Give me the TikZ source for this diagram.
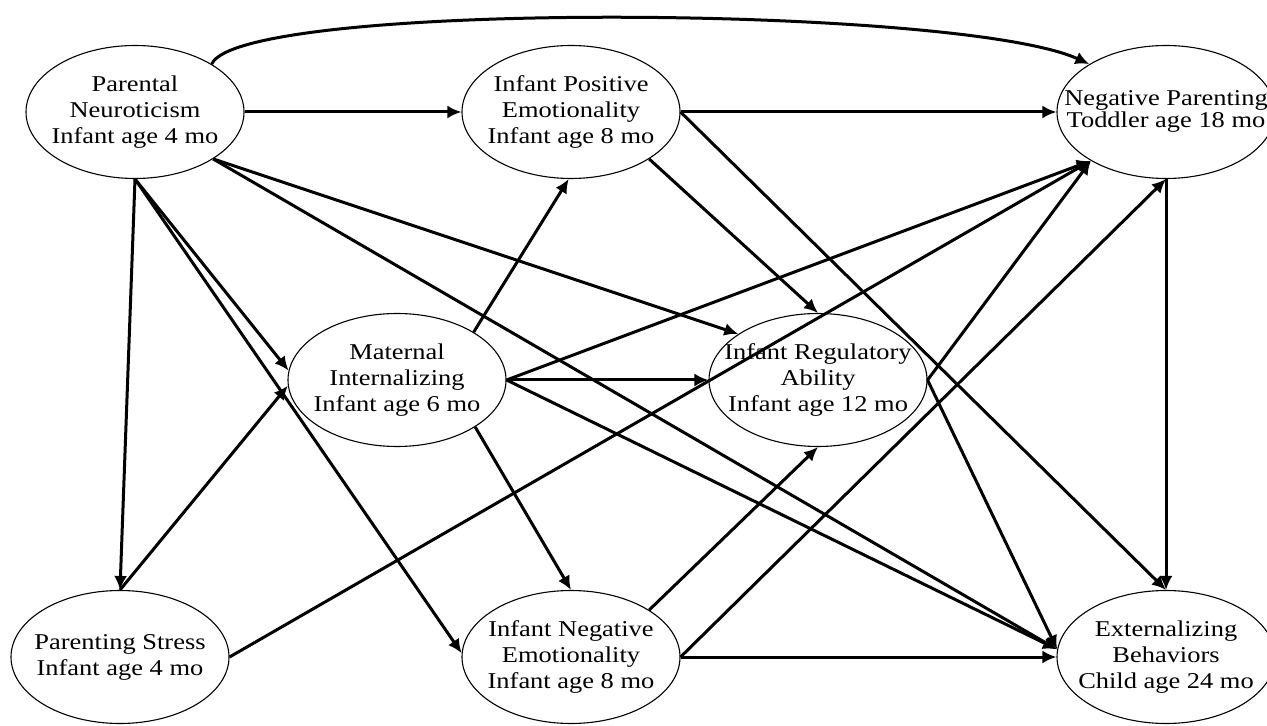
\documentclass[tikz,border=0pt]{standalone}
\usepackage{fontspec}
\setmainfont{Liberation Serif}[FakeStretch=1.17]
\usetikzlibrary{shapes.geometric,arrows.meta}

\newcommand{\ellabel}[1]{\makebox[0pt]{\begin{tabular}{@{}c@{}}#1\end{tabular}}}

\tikzset{
  latent/.style={ellipse, draw, line width=0.55pt, minimum width=109pt, minimum height=66.5pt, inner sep=0pt},
  eff/.style={-{Latex[length=7pt, width=6.5pt]}, line width=1.5pt}
}

\begin{document}
\begin{tikzpicture}[x=0.5pt, y=-0.5pt, font=\fontsize{11.3}{13.1}\selectfont]
  \useasboundingbox (0,0) rectangle (1267,726);

  % Constructs
  \node[latent] (PN)  at (135,112)  {\ellabel{Parental\\Neuroticism\\Infant age 4 mo}};
  \node[latent] (IPE) at (571,112)  {\ellabel{Infant Positive\\Emotionality\\Infant age 8 mo}};
  \node[latent, font=\fontsize{11.3}{9.8}\selectfont] (NP) at (1166,112) {\ellabel{Negative Parenting\\Toddler age 18 mo}};
  \node[latent] (MI)  at (397,380)  {\ellabel{Maternal\\Internalizing\\Infant age 6 mo}};
  \node[latent] (IRA) at (818,380)  {\ellabel{Infant Regulatory\\Ability\\Infant age 12 mo}};
  \node[latent] (PS)  at (120,657)  {\ellabel{Parenting Stress\\Infant age 4 mo}};
  \node[latent] (INE) at (571,657)  {\ellabel{Infant Negative\\Emotionality\\Infant age 8 mo}};
  \node[latent] (EB)  at (1166,657) {\ellabel{Externalizing\\Behaviors\\Child age 24 mo}};

  % Paths from parental neuroticism
  \draw[eff] (PN.32) .. controls (240,0) and (960,5) .. (NP.148);
  \draw[eff] (PN) -- (IPE);
  \draw[eff] (PN.south) -- (PS.north);
  \draw[eff] (PN.south) -- (MI.175);
  \draw[eff] (PN.south) -- (INE.178);
  \draw[eff] (PN.-31) -- (IRA.150);
  \draw[eff] (PN.-31) -- (EB.176);

  % Paths from parenting stress
  \draw[eff] (PS.north) -- (MI.183);
  \draw[eff] (PS.east) -- (NP.213);

  % Paths from maternal internalizing
  \draw[eff] (MI.32) -- (IPE.-92);
  \draw[eff] (MI.-31) -- (INE.north);
  \draw[eff] (MI) -- (IRA);
  \draw[eff] (MI.east) -- (NP.213);
  \draw[eff] (MI.east) -- (EB.176);

  % Paths from infant emotionality
  \draw[eff] (IPE) -- (NP);
  \draw[eff] (IPE.-31) -- (IRA.north);
  \draw[eff] (IPE.east) -- (EB.north);
  \draw[eff] (INE.31) -- (IRA.south);
  \draw[eff] (INE.east) -- (NP.south);
  \draw[eff] (INE) -- (EB);

  % Paths to outcome
  \draw[eff] (IRA.east) -- (NP.213);
  \draw[eff] (IRA.east) -- (EB.176);
  \draw[eff] (NP) -- (EB);
\end{tikzpicture}
\end{document}
